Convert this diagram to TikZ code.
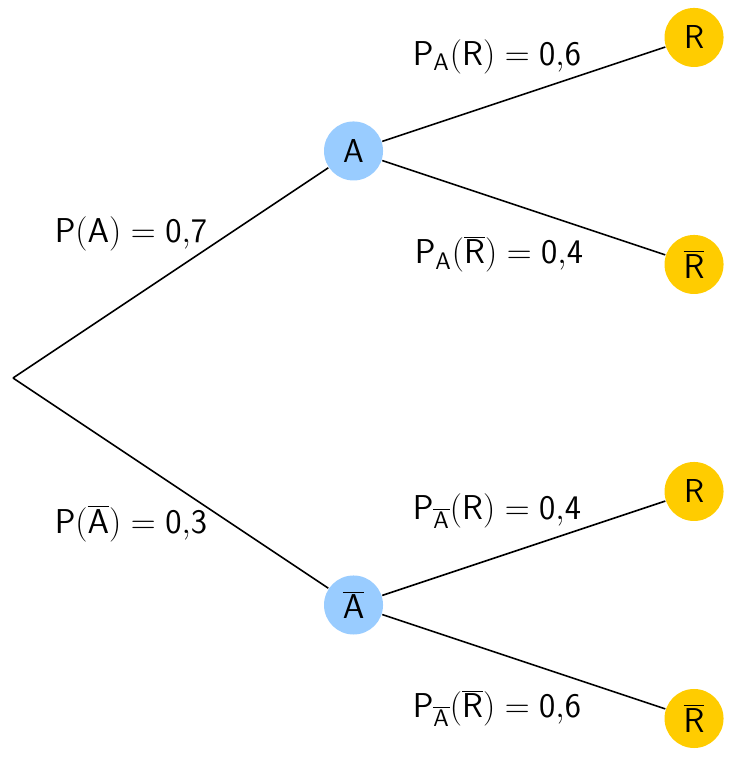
\documentclass[tikz,border=0pt]{standalone}
\begin{document}
\begin{tikzpicture}[x=2cm, y=2cm, font=\fontsize{16.6}{19}\selectfont\sffamily, line width=0.8pt,
  event/.style={circle, fill=eventBlue, minimum size=1.04cm, inner sep=0pt},
  outcome/.style={circle, fill=outcomeGold, minimum size=1.04cm, inner sep=0pt},
  branchlabel/.style={anchor=base west, inner sep=0pt}]
  \definecolor{eventBlue}{HTML}{99CCFF}
  \definecolor{outcomeGold}{HTML}{FFCC00}
  \useasboundingbox (-0.1145,-3.348) rectangle (6.308,3.330);

  \coordinate (root) at (0,0);
  \node[event] (a) at (3,2) {A};
  \node[event] (abar) at (3,-2) {$\overline{\mathsf{A}}$};
  \node[outcome] (ar) at (6,3) {R};
  \node[outcome] (arbar) at (6,1) {$\overline{\mathsf{R}}$};
  \node[outcome] (abarr) at (6,-1) {R};
  \node[outcome] (abarrbar) at (6,-3) {$\overline{\mathsf{R}}$};

  \foreach \from/\to in {root/a, root/abar, a/ar, a/arbar, abar/abarr, abar/abarrbar}
    \draw (\from) -- (\to);

  \node[branchlabel] (lbla) at (0.361,1.195)
    {$\mathsf{P}(\mathsf{A}) = \mathsf{0{,}7}$};
  \node[branchlabel] (lblabar) at (0.361,-1.37)
    {$\mathsf{P}(\overline{\mathsf{A}}) = \mathsf{0{,}3}$};
  \node[branchlabel] (lblar) at (3.515,2.755)
    {$\mathsf{P}_{\mathsf{A}}(\mathsf{R}) = \mathsf{0{,}6}$};
  \node[branchlabel] (lblarbar) at (3.533,1.005)
    {$\mathsf{P}_{\mathsf{A}}(\overline{\mathsf{R}}) = \mathsf{0{,}4}$};
  \node[branchlabel] (lblabarr) at (3.515,-1.25)
    {$\mathsf{P}_{\overline{\mathsf{A}}}(\mathsf{R}) = \mathsf{0{,}4}$};
  \node[branchlabel] (lblabarrbar) at (3.515,-2.995)
    {$\mathsf{P}_{\overline{\mathsf{A}}}(\overline{\mathsf{R}}) = \mathsf{0{,}6}$};
\end{tikzpicture}
\end{document}
